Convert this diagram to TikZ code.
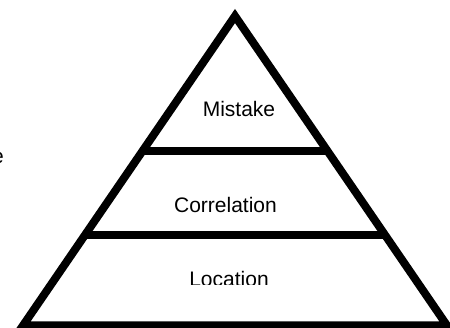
\documentclass[tikz,border=0pt]{standalone}
\usepackage{fontspec}
\setmainfont{Liberation Sans}
\usetikzlibrary{positioning,calc}

\begin{document}
\begin{tikzpicture}[x=1pt,y=-1pt,
  edge/.style={draw,line width=8pt},
  tier/.style={font=\fontsize{21}{25}\selectfont,inner sep=0pt,anchor=base}
]
\useasboundingbox (0,0) rectangle (450,328);
\clip (0,0) rectangle (450,328);
\coordinate (apex) at (235,16);
\coordinate (bl) at (23,325.5);
\coordinate (br) at (447,325.5);
\coordinate (ml) at ($(apex)!0.436!(bl)$);
\coordinate (mr) at ($(apex)!0.436!(br)$);
\coordinate (ll) at ($(apex)!0.708!(bl)$);
\coordinate (lr) at ($(apex)!0.708!(br)$);

\draw[edge] (apex) -- (bl) -- (br) -- cycle;
\draw[edge] (ml) -- (mr);
\draw[edge] (ll) -- (lr);

\node[tier] (mistake) at (239,117) {Mistake};
\node[tier] (correlation) at (225.5,212.7) {Correlation};
\begin{scope}
  \clip (0,0) rectangle (450,284.5);
  \node[tier] (location) at (229,287) {Location};
\end{scope}
\node[tier,anchor=base west] (cut) at (-8,164) {e};
\end{tikzpicture}
\end{document}
